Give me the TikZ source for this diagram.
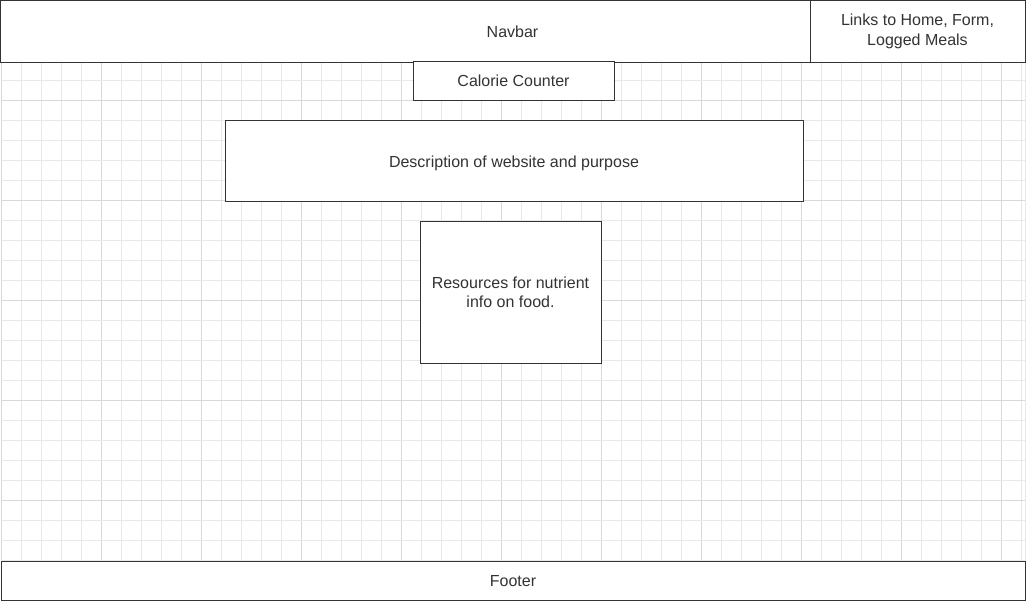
\documentclass[tikz,border=0pt]{standalone}
\usepackage{fontspec}
\setmainfont{Liberation Sans}
\definecolor{ink}{HTML}{333333}
\definecolor{gridminor}{HTML}{E8E8E8}
\definecolor{gridmajor}{HTML}{D8D8D8}
\tikzset{
  box/.style={draw=ink, fill=white, line width=0.75pt, text=ink, inner sep=0pt,
    align=center, font=\fontsize{12}{14.6}\selectfont},
  oneline/.style={box, text height=10.86pt, text depth=2.54pt},
  twoline/.style={box, execute at begin node={\rule{0pt}{11.8pt}}},
  sz/.style 2 args={minimum width=#1*0.75pt, minimum height=#2*0.75pt}
}
\begin{document}
\begin{tikzpicture}[x=0.75pt,y=-0.75pt]
\useasboundingbox (0,0) rectangle (1026,602);
\fill[white] (0,0) rectangle (1026,602);
% background grid: minor lines every 20px, heavier every 100px
\foreach \k in {0,...,51} {
  \pgfmathtruncatemacro{\gx}{1+20*\k}
  \pgfmathtruncatemacro{\ismaj}{mod(\k,5)==0 ? 1 : 0}
  \ifnum\ismaj=1
    \draw[gridmajor, line width=0.75pt] (\gx,1) -- (\gx,561);
  \else
    \draw[gridminor, line width=0.75pt] (\gx,1) -- (\gx,561);
  \fi
}
\foreach \k in {0,...,28} {
  \pgfmathtruncatemacro{\gy}{1+20*\k}
  \pgfmathtruncatemacro{\ismaj}{mod(\k,5)==0 ? 1 : 0}
  \ifnum\ismaj=1
    \draw[gridmajor, line width=0.75pt] (1,\gy) -- (1025,\gy);
  \else
    \draw[gridminor, line width=0.75pt] (1,\gy) -- (1025,\gy);
  \fi
}
\draw[gridminor, line width=0.75pt] (1025,1) -- (1025,561);
% page blocks
\node[oneline, sz={1025}{62}] (navbar) at (512.5,31.5) {Navbar};
\node[twoline, sz={215}{62}] (links) at (917.5,31.5) {Links to Home, Form,\\Logged Meals};
\node[oneline, sz={201}{39}] (title) at (513.5,81) {Calorie Counter};
\node[oneline, sz={578}{81}] (desc) at (514,161.5) {Description of website and purpose};
\node[twoline, sz={181}{142}] (res) at (510.5,292.5) {Resources for nutrient\\info on food.};
\node[oneline, sz={1024}{39}] (footer) at (513,581) {Footer};
\end{tikzpicture}
\end{document}
